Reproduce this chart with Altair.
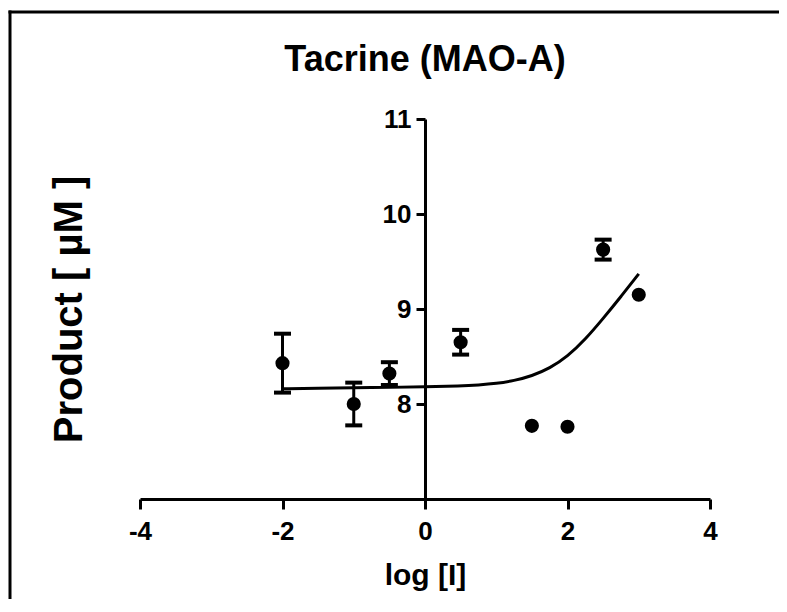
import altair as alt
import pandas as pd

log_i = [-2, -1, -0.5, 0.5, 1.5, 2, 2.5, 3]
product = [8.43, 8.00, 8.32, 8.65, 7.77, 7.76, 9.625, 9.15]
err = [0.31, 0.225, 0.12, 0.13, 0.0, 0.0, 0.105, 0.0]

# Fitted curve
curve_x = [-2, -1.5, -1, -0.5, 0, 0.5, 0.75, 1.0, 1.25, 1.5, 1.75, 2.0, 2.25, 2.5, 2.75, 3.0]
curve_y = [8.16, 8.165, 8.17, 8.175, 8.18, 8.19, 8.20, 8.215, 8.245, 8.295, 8.375, 8.50, 8.68, 8.90, 9.13, 9.37]

x_ticks = [-4, -2, 0, 2, 4]
y_ticks = [8, 9, 10, 11]

FONT = "Liberation Sans"

pts = pd.DataFrame({"x": log_i, "y": product, "e": err})
pts["lo"] = pts["y"] - pts["e"]
pts["hi"] = pts["y"] + pts["e"]
bars = pts[pts["e"] > 0]
curve = pd.DataFrame({"x": curve_x, "y": curve_y})

xs = alt.Scale(domain=[-4, 4], nice=False, zero=False)
ys = alt.Scale(domain=[7, 11], nice=False, zero=False)

x_axis = alt.Axis(
    values=x_ticks, title="log [I]", titleFontSize=30, titlePadding=16,
    labelFontSize=26, labelPadding=9, tickSize=10, grid=False,
    labelFlush=False, labelExpr="'' + datum.value",
)
y_axis = alt.Axis(
    values=y_ticks, title="Product [ µM ]", titleFontSize=40,
    titleX=-356, titleY=190, titleAngle=270, titleBaseline="middle", titleAlign="center",
    labelFontSize=26, labelPadding=5, tickSize=9, grid=False, offset=-285,
    labelFlush=False, labelExpr="'' + datum.value",
)

frame = pd.DataFrame({"k": [0]})
border_top = alt.Chart(frame).mark_rule(color="black", strokeWidth=3).encode(
    x=alt.value(-131.5), x2=alt.value(700), y=alt.value(-107)
)
border_left = alt.Chart(frame).mark_rule(color="black", strokeWidth=3).encode(
    x=alt.value(-130), y=alt.value(-108.5), y2=alt.value(620)
)

line = alt.Chart(curve).mark_line(
    color="black", strokeWidth=3, interpolate="basis"
).encode(
    x=alt.X("x:Q", scale=xs, axis=x_axis),
    y=alt.Y("y:Q", scale=ys, axis=y_axis),
)

ebar = alt.Chart(bars).mark_rule(color="black", strokeWidth=3).encode(
    x=alt.X("x:Q", scale=xs), y=alt.Y("lo:Q", scale=ys), y2="hi:Q"
)
cap_lo = alt.Chart(bars).mark_tick(
    color="black", thickness=4, size=17, orient="horizontal", opacity=1
).encode(x=alt.X("x:Q", scale=xs), y=alt.Y("lo:Q", scale=ys))
cap_hi = alt.Chart(bars).mark_tick(
    color="black", thickness=4, size=17, orient="horizontal", opacity=1
).encode(x=alt.X("x:Q", scale=xs), y=alt.Y("hi:Q", scale=ys))

dots = alt.Chart(pts).mark_point(
    filled=True, color="black", size=200, shape="circle", opacity=1
).encode(x=alt.X("x:Q", scale=xs), y=alt.Y("y:Q", scale=ys))

chart = alt.layer(border_top, border_left, line, ebar, cap_lo, cap_hi, dots).properties(
    width=570,
    height=380,
    title=alt.TitleParams(
        "Tacrine (MAO-A)", fontSize=36, font=FONT, fontWeight="bold",
        anchor="middle", offset=0, dy=70, color="black",
    ),
    autosize=alt.AutoSizeParams(type="none"),
    padding={"left": 132, "top": 111, "right": 69, "bottom": 100},
).configure_view(stroke=None).configure_axis(
    domainColor="black", domainWidth=3, tickColor="black", tickWidth=3,
    labelFont=FONT, labelFontWeight="bold", labelColor="black",
    titleFont=FONT, titleFontWeight="bold", titleColor="black",
)

chart.save("out.html", embed_options={"renderer": "svg", "actions": False})
